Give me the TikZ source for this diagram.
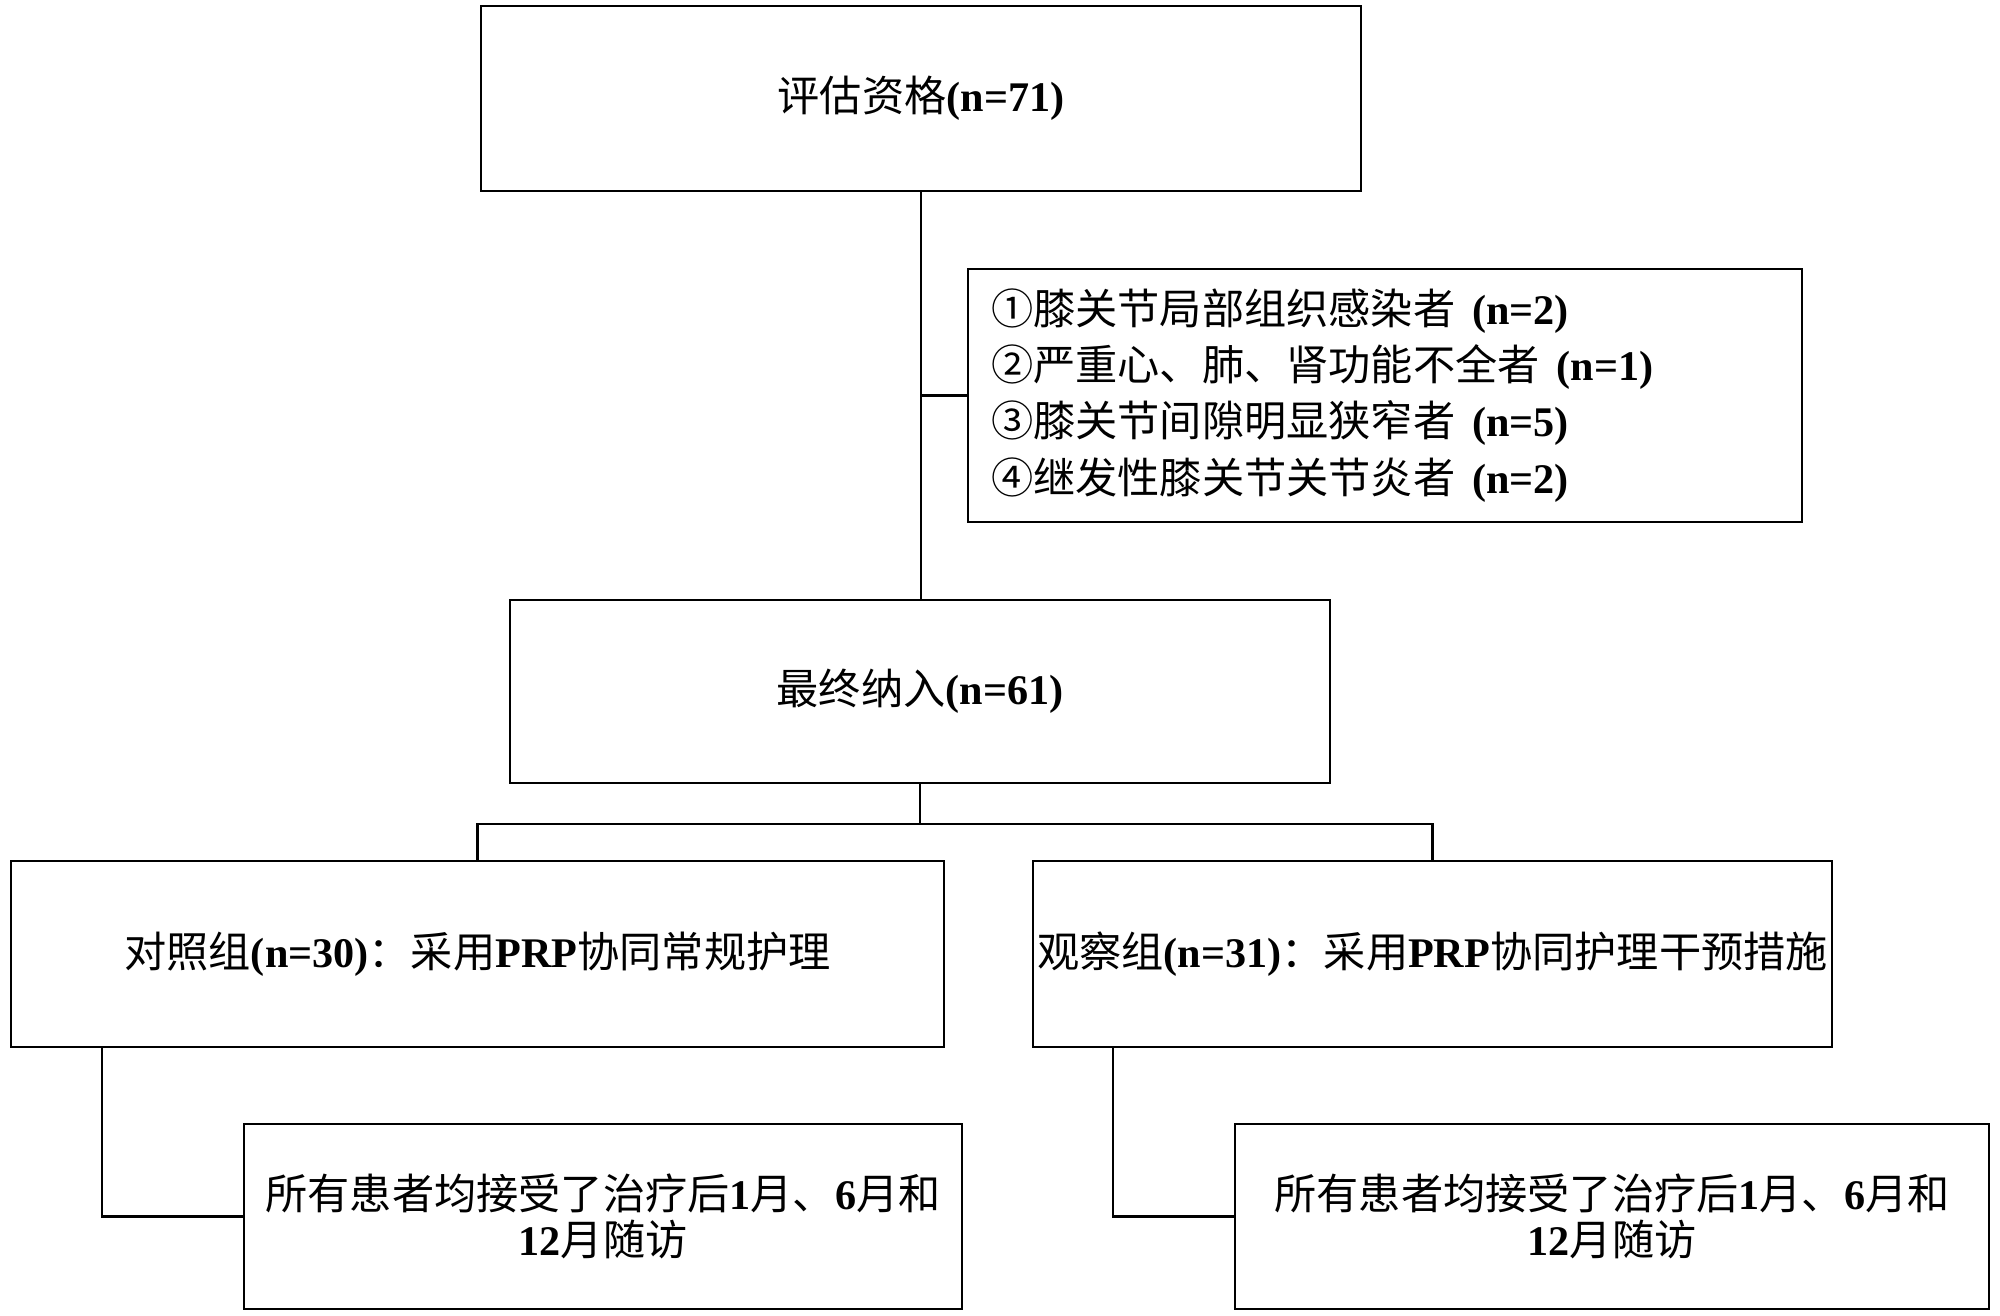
\documentclass[tikz,border=0pt]{standalone}
\usepackage{fontspec}
\setmainfont{Liberation Serif}
\newfontfamily\cjk{Noto Sans CJK SC}
\newcommand{\zh}[1]{{\cjk #1}}
\newcommand{\nb}[1]{\textbf{#1}}
\begin{document}
\begin{tikzpicture}[x=0.01cm,y=-0.01cm]
 	\tikzstyle{box}=[draw=black,line width=0.6pt,inner sep=0pt,align=center,font=\fontsize{12pt}{13pt}\selectfont]
 	\tikzstyle{link}=[black,line width=0.6pt]
 	\useasboundingbox (0,0) rectangle (2000,1316);
 	\node [box,minimum width=8.8cm,minimum height=1.85cm] (assess) at (921,98.5) {\zh{评估资格}\nb{(n=71)}};
 	\node [box,anchor=west,text width=7.87cm,align=left,inner xsep=0.23cm,minimum height=2.53cm,font=\fontsize{12pt}{16pt}\selectfont] (excl) at (967,395.5) {\zh{①膝关节局部组织感染者}\hspace{0.4em}\nb{(n=2)}\\\zh{②严重心、肺、肾功能不全者}\hspace{0.4em}\nb{(n=1)}\\\zh{③膝关节间隙明显狭窄者}\hspace{0.4em}\nb{(n=5)}\\\zh{④继发性膝关节关节炎者}\hspace{0.4em}\nb{(n=2)}};
 	\node [box,minimum width=8.2cm,minimum height=1.83cm] (incl) at (920,691.5) {\zh{最终纳入}\nb{(n=61)}};
 	\node [box,minimum width=9.33cm,minimum height=1.86cm] (ctrl) at (477.5,954) {\zh{对照组}\nb{(n=30)}\zh{：采用}\nb{PRP}\zh{协同常规护理}};
 	\node [box,minimum width=7.99cm,minimum height=1.86cm] (obs) at (1432.5,954) {\zh{观察组}\nb{(n=31)}\zh{：采用}\nb{PRP}\zh{协同护理干预措施}};
 	\node [box,minimum width=7.18cm,minimum height=1.85cm] (fuctrl) at (603,1216.5) {\zh{所有患者均接受了治疗后}\nb{1}\zh{月、}\nb{6}\zh{月和}\\\nb{12}\zh{月随访}};
 	\node [box,minimum width=7.54cm,minimum height=1.85cm] (fuobs) at (1612,1216.5) {\zh{所有患者均接受了治疗后}\nb{1}\zh{月、}\nb{6}\zh{月和}\\\nb{12}\zh{月随访}};
 	\coordinate (split) at (920,824);
 	\draw [link] (assess.south) -- (assess.south |- incl.north);
 	\draw [link] (assess.south |- excl.west) -- (excl.west);
 	\draw [link] (incl.south) -- (split);
 	\draw [link] (ctrl.north) |- (split) -| (obs.north);
 	\draw [link] ([xshift=0.92cm]ctrl.south west) |- (fuctrl.west);
 	\draw [link] ([xshift=0.81cm]obs.south west) |- (fuobs.west);
\end{tikzpicture}
\end{document}
